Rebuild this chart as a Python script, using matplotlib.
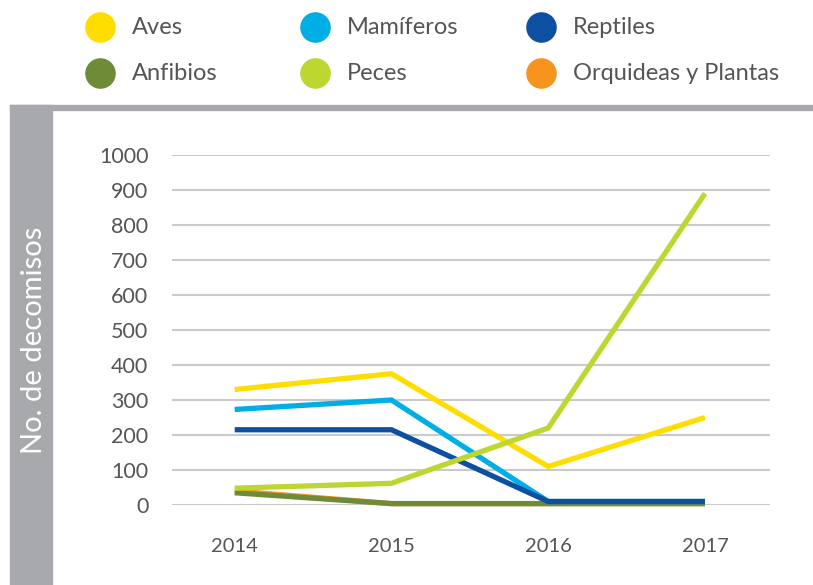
import matplotlib.pyplot as plt
import matplotlib.patches as mpatches
from matplotlib.lines import Line2D

years = ['2014', '2015', '2016', '2017']
aves = [330, 375, 110, 250]
mamiferos = [273, 300, 10, 10]
reptiles = [215, 215, 10, 10]
anfibios = [35, 4, 4, 4]
peces = [48, 62, 220, 890]
orquideas = [40, 4, 4, 4]

series_names = ['Aves', 'Mamíferos', 'Reptiles', 'Anfibios', 'Peces', 'Orquideas y Plantas']
series_values = [aves, mamiferos, reptiles, anfibios, peces, orquideas]
series_colors = ['#FFDD00', '#00AEE6', '#0D4FA0', '#6E8B37', '#BDD630', '#F7941D']
# drawing order (bottom to top)
draw_order = [5, 3, 1, 2, 0, 4]

plt.rcParams['font.family'] = ['Lato', 'DejaVu Sans']

W, H = 813, 585
fig = plt.figure(figsize=(W / 100, H / 100), dpi=100)

# gray frame: top strip and left band
fig.patches.append(mpatches.Rectangle((10 / W, 0), 42 / W, 1 - 105 / H,
                                      transform=fig.transFigure, color='#A7A9AC', zorder=0))
fig.patches.append(mpatches.Rectangle((10 / W, 1 - 110 / H), 1 - 10 / W, 5 / H,
                                      transform=fig.transFigure, color='#A7A9AC', zorder=0))
fig.text(34 / W, 1 - 340 / H, 'No. de decomisos', rotation=90, color='white',
         fontsize=21, ha='center', va='center')

ax = fig.add_axes([172 / W, 1 - 505 / H, 598 / W, 350 / H])
x = list(range(len(years)))
for z, i in enumerate(draw_order):
    ax.plot(x, series_values[i], color=series_colors[i], lw=3.8,
            solid_capstyle='butt', solid_joinstyle='miter', clip_on=False, zorder=3 + z)

ax.set_xlim(-0.40, 3.415)
ax.set_ylim(0, 1000)
ax.set_yticks(range(0, 1001, 100))
ax.set_xticks(x)
ax.set_xticklabels(years)
ax.yaxis.grid(True, color='#CACACA', lw=1.5)
ax.set_axisbelow(True)
for s in ax.spines.values():
    s.set_visible(False)
ax.tick_params(axis='y', length=0, pad=17, labelsize=15.5, labelcolor='#555555')
ax.tick_params(axis='x', length=0, pad=24, labelsize=14.5, labelcolor='#555555')

# legend drawn as circles + text
leg_x = [100, 315, 541]
leg_y = [27, 73]
for k, name in enumerate(series_names):
    cx = leg_x[k % 3] / W
    cy = 1 - leg_y[k // 3] / H
    fig.add_artist(Line2D([cx], [cy], marker='o', markersize=21, color=series_colors[k],
                          transform=fig.transFigure))
    fig.text(cx + 32 / W, cy, name, fontsize=17, color='#555555', va='center', ha='left')

fig.savefig('out.png', dpi=100)
